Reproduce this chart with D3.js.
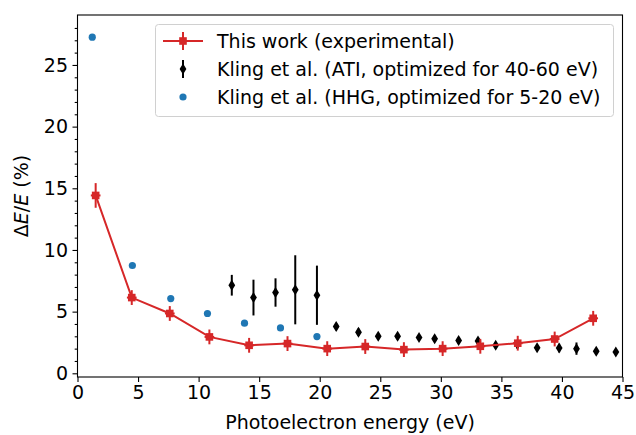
<!DOCTYPE html>
<html><head><meta charset="utf-8">
<script src="https://cdn.jsdelivr.net/npm/d3@7"></script>
<style>body{margin:0;background:#fff}svg{display:block;font-family:"DejaVu Sans",sans-serif}</style>
</head><body><svg id="c" width="636" height="435"></svg>
<script>
// This work (experimental)
const workX = [1.5, 4.48, 7.62, 10.89, 14.17, 17.34, 20.62, 23.76, 26.95, 30.15, 33.26, 36.35, 39.4, 42.58];
const workY = [14.42, 6.14, 4.85, 2.95, 2.27, 2.41, 2.0, 2.17, 1.92, 2.0, 2.19, 2.44, 2.78, 4.46];
const workYErr = [1.0, 0.6, 0.6, 0.6, 0.6, 0.6, 0.6, 0.6, 0.6, 0.6, 0.6, 0.6, 0.6, 0.6];
const workXErr = [0.4, 0.4, 0.4, 0.4, 0.4, 0.4, 0.4, 0.4, 0.4, 0.4, 0.4, 0.4, 0.4, 0.4];
// Kling et al. ATI
const atiX = [12.74, 14.53, 16.35, 17.98, 19.77, 21.36, 23.2, 24.83, 26.43, 28.2, 29.49, 31.47, 33.07, 34.53, 36.32, 37.95, 39.77, 41.2, 42.83, 44.45];
const atiY = [7.14, 6.14, 6.55, 6.77, 6.33, 3.79, 3.33, 3.0, 3.0, 2.9, 2.81, 2.65, 2.62, 2.27, 2.35, 2.08, 2.05, 2.0, 1.79, 1.73];
const atiErr = [0.84, 1.45, 1.15, 2.8, 2.4, 0.3, 0.3, 0.25, 0.25, 0.25, 0.25, 0.25, 0.3, 0.25, 0.35, 0.2, 0.35, 0.5, 0.2, 0.2];
// Kling et al. HHG
const hhgX = [1.22, 4.53, 7.7, 10.73, 13.79, 16.76, 19.77];
const hhgY = [27.25, 8.74, 6.06, 4.85, 4.06, 3.68, 2.98];
// axes
const xTicks = [0, 5, 10, 15, 20, 25, 30, 35, 40, 45];
const yTicks = [0, 5, 10, 15, 20, 25];
const legendLabels = ["This work (experimental)", "Kling et al. (ATI, optimized for 40-60 eV)", "Kling et al. (HHG, optimized for 5-20 eV)"];

const RED = "#d62728", BLUE = "#1f77b4";
const FS = 19, LFS = 19;
const svg = d3.select("#c");
const L = 77.5, R = 622.5, T = 15, B = 377;
const x = d3.scaleLinear([0, 45], [L, R]);
const y = d3.scaleLinear([-0.3, 29.05], [B, T]);

// axes
const xa = svg.append("g").attr("transform", `translate(0,${B})`)
  .call(d3.axisBottom(x).tickValues(xTicks).tickSize(5).tickPadding(3.5).tickFormat(d3.format("d")));
const ya = svg.append("g").attr("transform", `translate(${L},0)`)
  .call(d3.axisLeft(y).tickValues(yTicks).tickSize(5).tickPadding(4.5).tickFormat(d3.format("d")));
svg.append("g").attr("transform", `translate(${L},0)`)
  .call(d3.axisLeft(y).tickValues(d3.range(0, 29, 1).filter(v => v % 5 !== 0)).tickSize(2.8).tickFormat(""))
  .call(g => g.select(".domain").remove());
[xa, ya].forEach(g => {
  g.selectAll("text").attr("font-size", FS).attr("fill", "#000").attr("font-family", "DejaVu Sans");
  g.select(".domain").remove();
});
svg.selectAll("g line").attr("stroke", "#000").attr("stroke-width", 1.1);
svg.append("rect").attr("x", L).attr("y", T).attr("width", R - L).attr("height", B - T)
  .attr("fill", "none").attr("stroke", "#000").attr("stroke-width", 1.1);

// axis labels
svg.append("text").attr("x", (L + R) / 2).attr("y", 429).attr("text-anchor", "middle")
  .attr("font-size", FS).text("Photoelectron energy (eV)");
const yl = svg.append("text").attr("transform", `translate(28,${(T + B) / 2}) rotate(-90)`)
  .attr("text-anchor", "middle").attr("font-size", FS);
yl.append("tspan").text("Δ");
yl.append("tspan").attr("font-style", "italic").text("E");
yl.append("tspan").text("/");
yl.append("tspan").attr("font-style", "italic").text("E");
yl.append("tspan").text(" (%)");

const plot = svg.append("g");
// HHG blue
plot.selectAll(".hhg").data(hhgX).join("circle")
  .attr("cx", d => x(d)).attr("cy", (d, i) => y(hhgY[i])).attr("r", 3.6).attr("fill", BLUE);

// ATI black with error bars
const ati = plot.selectAll(".ati").data(atiX).join("g");
ati.append("line").attr("x1", d => x(d)).attr("x2", d => x(d))
  .attr("y1", (d, i) => y(atiY[i] - atiErr[i])).attr("y2", (d, i) => y(atiY[i] + atiErr[i]))
  .attr("stroke", "#000").attr("stroke-width", 2);
ati.append("path").attr("d", (d, i) => {
  const cx = x(d), cy = y(atiY[i]);
  return `M${cx},${cy - 5.5}L${cx + 3.4},${cy}L${cx},${cy + 5.5}L${cx - 3.4},${cy}Z`;
}).attr("fill", "#000");

// red line
plot.append("path").datum(workX)
  .attr("d", d3.line().x(d => x(d)).y((d, i) => y(workY[i])))
  .attr("fill", "none").attr("stroke", RED).attr("stroke-width", 2);
const w = plot.selectAll(".w").data(workX).join("g");
w.append("line").attr("x1", d => x(d)).attr("x2", d => x(d))
  .attr("y1", (d, i) => y(workY[i] - workYErr[i])).attr("y2", (d, i) => y(workY[i] + workYErr[i]))
  .attr("stroke", RED).attr("stroke-width", 2);
w.append("line").attr("x1", (d, i) => x(d - workXErr[i])).attr("x2", (d, i) => x(d + workXErr[i]))
  .attr("y1", (d, i) => y(workY[i])).attr("y2", (d, i) => y(workY[i]))
  .attr("stroke", RED).attr("stroke-width", 2);
w.append("rect").attr("x", d => x(d) - 3.8).attr("y", (d, i) => y(workY[i]) - 3.8)
  .attr("width", 7.6).attr("height", 7.6).attr("fill", RED);

// legend
const lg = svg.append("g");
lg.append("rect").attr("x", 155.5).attr("y", 24.5).attr("width", 458).attr("height", 92).attr("rx", 3)
  .attr("fill", "#fff").attr("fill-opacity", 0.8).attr("stroke", "#d0d0d0").attr("stroke-width", 1);
const rows = [41, 69, 97];
// row 1
lg.append("line").attr("x1", 163).attr("x2", 203).attr("y1", rows[0]).attr("y2", rows[0]).attr("stroke", RED).attr("stroke-width", 2);
lg.append("line").attr("x1", 183).attr("x2", 183).attr("y1", rows[0] - 9).attr("y2", rows[0] + 9).attr("stroke", RED).attr("stroke-width", 2);
lg.append("rect").attr("x", 179.2).attr("y", rows[0] - 3.8).attr("width", 7.6).attr("height", 7.6).attr("fill", RED);
// row 2
lg.append("line").attr("x1", 183).attr("x2", 183).attr("y1", rows[1] - 9).attr("y2", rows[1] + 9).attr("stroke", "#000").attr("stroke-width", 2);
lg.append("path").attr("d", `M183,${rows[1] - 5.5}L186.4,${rows[1]}L183,${rows[1] + 5.5}L179.6,${rows[1]}Z`).attr("fill", "#000");
// row 3
lg.append("circle").attr("cx", 183).attr("cy", rows[2]).attr("r", 3.6).attr("fill", BLUE);
lg.selectAll(".lt").data(legendLabels).join("text")
  .attr("x", 217).attr("y", (d, i) => rows[i] + 7).attr("font-size", LFS).text(d => d);
</script></body></html>
